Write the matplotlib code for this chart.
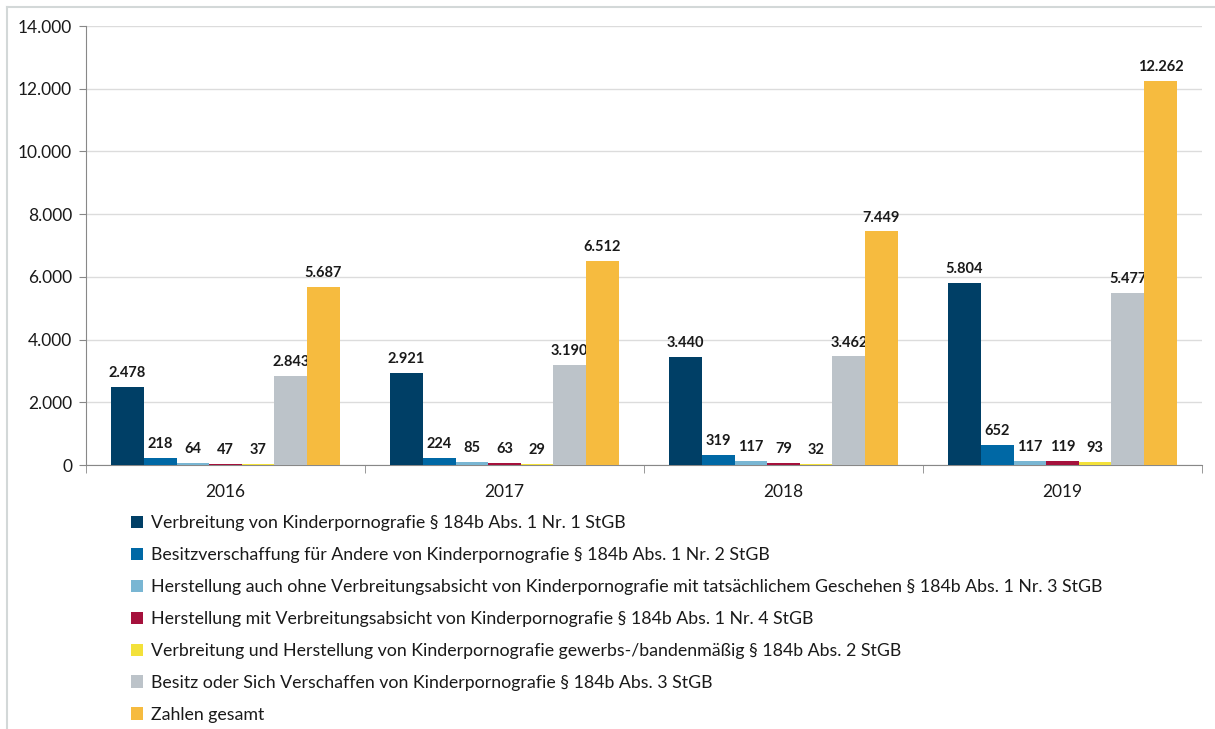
import matplotlib
matplotlib.use("Agg")
import matplotlib.pyplot as plt
import numpy as np
from matplotlib.lines import Line2D
from matplotlib.ticker import FuncFormatter, FixedLocator

plt.rcParams['font.family'] = ['Lato', 'DejaVu Sans']

years = ["2016", "2017", "2018", "2019"]
series_names = [
    "Verbreitung von Kinderpornografie § 184b Abs. 1 Nr. 1 StGB",
    "Besitzverschaffung für Andere von Kinderpornografie § 184b Abs. 1 Nr. 2 StGB",
    "Herstellung auch ohne Verbreitungsabsicht von Kinderpornografie mit tatsächlichem Geschehen § 184b Abs. 1 Nr. 3 StGB",
    "Herstellung mit Verbreitungsabsicht von Kinderpornografie § 184b Abs. 1 Nr. 4 StGB",
    "Verbreitung und Herstellung von Kinderpornografie gewerbs-/bandenmäßig § 184b Abs. 2 StGB",
    "Besitz oder Sich Verschaffen von Kinderpornografie § 184b Abs. 3 StGB",
    "Zahlen gesamt",
]
verbreitung = [2478, 2921, 3440, 5804]
besitzverschaffung = [218, 224, 319, 652]
herstellung_ohne = [64, 85, 117, 117]
herstellung_mit = [47, 63, 79, 119]
gewerbs = [37, 29, 32, 93]
besitz = [2843, 3190, 3462, 5477]
gesamt = [5687, 6512, 7449, 12262]
series_values = [verbreitung, besitzverschaffung, herstellung_ohne, herstellung_mit,
                 gewerbs, besitz, gesamt]
colors = ["#003f66", "#0068a5", "#79b6d3", "#a5113c", "#f3e13a", "#bcc3c9", "#f6bb3f"]

fig = plt.figure(figsize=(12.15, 7.29), dpi=100)
# partial frame (top and left edges only)
fig.add_artist(Line2D([0.006, 1.0], [0.990, 0.990], transform=fig.transFigure,
                      color="#d3d8d8", linewidth=1.5))
fig.add_artist(Line2D([0.006, 0.006], [0.0, 0.990], transform=fig.transFigure,
                      color="#d3d8d8", linewidth=1.5))
ax = fig.add_axes([0.0708, 0.3621, 0.9185, 0.6022])

x = np.arange(len(years))
w = 0.117
n = len(series_values)
handles = []
for i, (vals, col, name) in enumerate(zip(series_values, colors, series_names)):
    pos = x + (i - (n - 1) / 2) * w
    b = ax.bar(pos, vals, width=w, color=col, label=name, zorder=3)
    handles.append(b)
    for p, v in zip(pos, vals):
        ax.annotate(f"{v:,}".replace(",", "."), (p, v), xytext=(0, 5),
                    textcoords="offset points", ha="center", va="bottom",
                    fontsize=10.5, fontweight="bold", color="#1a1a1a")

ax.set_xlim(-0.5, 3.5)
ax.set_ylim(0, 14000)
ax.set_yticks(np.arange(0, 14001, 2000))
ax.yaxis.set_major_formatter(FuncFormatter(lambda v, _: f"{int(v):,}".replace(",", ".")))
ax.grid(axis="y", color="#dcdcdc", linewidth=1, zorder=0)
ax.set_xticks(x)
ax.set_xticklabels(years)
ax.xaxis.set_minor_locator(FixedLocator([-0.5, 0.5, 1.5, 2.5, 3.5]))
ax.tick_params(axis="x", which="major", length=0, pad=14, labelsize=12.5, colors="#1a1a1a")
ax.tick_params(axis="x", which="minor", length=6, color="#888888")
ax.tick_params(axis="y", length=5, color="#888888", labelsize=12.5, labelcolor="#1a1a1a", pad=5)
for s in ["top", "right"]:
    ax.spines[s].set_visible(False)
ax.spines["left"].set_color("#888888")
ax.spines["bottom"].set_color("#888888")

leg = fig.legend(handles=handles, labels=series_names, loc="upper left",
                 bbox_to_anchor=(0.102, 0.303), frameon=False, ncol=1,
                 fontsize=12.75, handlelength=0.7, handleheight=0.7,
                 handletextpad=0.45, labelspacing=0.9, borderaxespad=0)
for t in leg.get_texts():
    t.set_color("#1a1a1a")

fig.savefig("out.png", dpi=100)
